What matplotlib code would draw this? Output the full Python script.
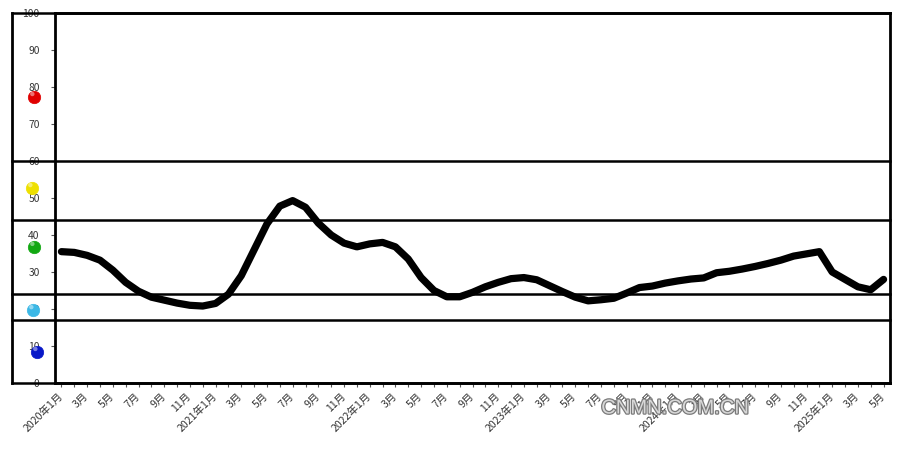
import matplotlib
matplotlib.use("Agg")
import matplotlib.pyplot as plt
import matplotlib.patheffects as pe
from matplotlib.transforms import ScaledTranslation

plt.rcParams['font.family'] = ['Noto Sans CJK SC', 'DejaVu Sans']

# ---- data ----
months = ["2020年1月", "2月", "3月", "4月", "5月", "6月", "7月", "8月", "9月", "10月", "11月", "12月",
          "2021年1月", "2月", "3月", "4月", "5月", "6月", "7月", "8月", "9月", "10月", "11月", "12月",
          "2022年1月", "2月", "3月", "4月", "5月", "6月", "7月", "8月", "9月", "10月", "11月", "12月",
          "2023年1月", "2月", "3月", "4月", "5月", "6月", "7月", "8月", "9月", "10月", "11月", "12月",
          "2024年1月", "2月", "3月", "4月", "5月", "6月", "7月", "8月", "9月", "10月", "11月", "12月",
          "2025年1月", "2月", "3月", "4月", "5月"]
index_values = [35.5, 35.3, 34.5, 33.2, 30.5, 27.2, 24.8, 23.2, 22.4, 21.6, 21.0, 20.8,
                21.5, 24.0, 29.0, 36.0, 43.0, 47.8, 49.3, 47.5, 43.2, 40.0, 37.8, 36.8,
                37.6, 38.0, 36.8, 33.5, 28.5, 25.0, 23.3, 23.3, 24.5, 26.0, 27.2, 28.2,
                28.5, 27.9, 26.3, 24.7, 23.2, 22.2, 22.5, 22.9, 24.3, 25.8, 26.2, 27.0,
                27.6, 28.1, 28.4, 29.8, 30.2, 30.8, 31.5, 32.3, 33.2, 34.3, 34.9, 35.5,
                30.0, 28.0, 26.0, 25.2, 28.0]
zone_lines = [60, 44, 24, 17]
y_ticks = [0, 10, 20, 30, 40, 50, 60, 70, 80, 90, 100]
light_values = [77.3, 52.7, 36.8, 19.7, 8.4]
light_colors = ["#e00000", "#eee000", "#12a812", "#3cb8e6", "#0818c8"]
light_x_px = [34, 32, 34, 33, 37]

# ---- figure ----
W, H = 900, 454
fig = plt.figure(figsize=(W / 100, H / 100), dpi=100)
ax_l, ax_r, ax_t, ax_b = 55, 890, 13, 383
ax = fig.add_axes([ax_l / W, 1 - ax_b / H, (ax_r - ax_l) / W, (ax_b - ax_t) / H])

x = list(range(len(months)))
ax.plot(x, index_values, color="black", lw=5.2, solid_capstyle="round", solid_joinstyle="round", zorder=6)

ax.set_xlim(-0.5, len(months) - 0.5)
ax.set_ylim(0, 100)

for s in ax.spines.values():
    s.set_linewidth(2)
    s.set_color("black")

ax.set_xticks(x)
ax.set_xticklabels([m if i % 2 == 0 else "" for i, m in enumerate(months)],
                   rotation=45, ha="right", rotation_mode="anchor", fontsize=7.6, color="#333333")
ax.tick_params(axis="x", length=3, width=0.8, color="#555555", pad=2)
shift = ScaledTranslation(-4 / 100, -1 / 100, fig.dpi_scale_trans)
for lbl in ax.get_xticklabels():
    lbl.set_transform(lbl.get_transform() + shift)
ax.set_yticks(y_ticks)
ax.set_yticklabels([str(v) for v in y_ticks], fontsize=7.4, color="#333333")
ax.tick_params(axis="y", length=3, width=0.8, color="#555555", pad=8)

# outer frame and zone lines extending to the left
xl = (12 - ax_l) / (ax_r - ax_l)
yt = ax.get_yaxis_transform()
for yv in zone_lines + [0, 100]:
    ax.plot([xl, 1], [yv, yv], transform=yt, color="black", lw=1.8, clip_on=False, zorder=4)
ax.plot([xl, xl], [0, 100], transform=yt, color="black", lw=2, clip_on=False, zorder=4)

# coloured indicator lights
for v, c, px in zip(light_values, light_colors, light_x_px):
    xf = (px - ax_l) / (ax_r - ax_l)
    ax.scatter([xf], [v], transform=yt, s=80, color=c, edgecolors=c, linewidths=0.5,
               clip_on=False, zorder=8)
    ax.scatter([xf - 0.002], [v + 0.8], transform=yt, s=10, color="white", alpha=0.45,
               edgecolors="none", clip_on=False, zorder=9)

# watermark
fig.text(675 / W, 1 - 408 / H, "CNMN.COM.CN", fontsize=14.5, family="Liberation Sans",
         color="#d8d8d8", ha="center", va="center",
         path_effects=[pe.Stroke(linewidth=1.8, foreground="#7a7a7a"), pe.Normal()])

fig.savefig("out.png", dpi=100)
